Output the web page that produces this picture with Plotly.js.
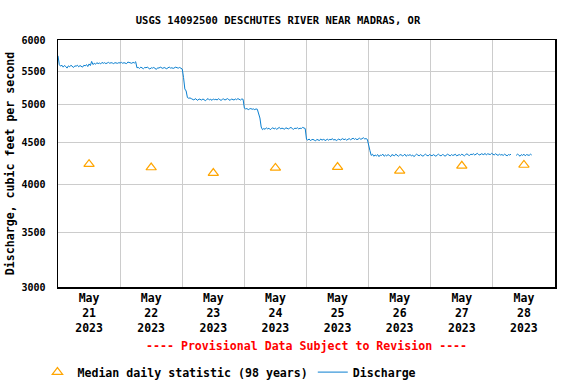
<!DOCTYPE html>
<html><head><meta charset="utf-8">
<script src="https://cdn.plot.ly/plotly-3.0.1.min.js"></script>
<style>html,body{margin:0;padding:0;background:#fff}#chart{width:576px;height:384px}</style>
</head><body><div id="chart"></div>
<script>
// Half-hourly discharge readings (cfs), one array per day, index = half-hour of day
const dayLabels = ['2023-05-21','2023-05-22','2023-05-23','2023-05-24','2023-05-25','2023-05-26','2023-05-27','2023-05-28'];
const may21 = [5740, 5600, 5575, 5590, 5560, 5585, 5570, 5545,
               5580, 5565, 5590, 5570, 5555, 5580, 5575, 5590,
               5565, 5585, 5575, 5560, 5590, 5580, 5600, 5570,
               5610, 5585, 5650, 5600, 5620, 5605, 5630, 5615,
               5625, 5610, 5635, 5620, 5630, 5615, 5625, 5635,
               5620, 5630, 5625, 5615, 5630, 5625, 5620, 5630];
const may22 = [5625, 5635, 5620, 5630, 5625, 5615, 5640, 5630,
               5625, 5620, 5635, 5625, 5645, 5550, 5555, 5540,
               5560, 5545, 5535, 5555, 5550, 5560, 5540, 5530,
               5550, 5545, 5555, 5540, 5525, 5550, 5545, 5560,
               5550, 5540, 5555, 5545, 5535, 5550, 5560, 5545,
               5550, 5540, 5555, 5560, 5550, 5545, 5555, 5545];
const may23 = [5530, 5400, 5230, 5200, 5105, 5095, 5100, 5090,
               5080, 5070, 5090, 5075, 5065, 5085, 5080, 5070,
               5085, 5075, 5060, 5080, 5090, 5070, 5080, 5065,
               5085, 5075, 5080, 5070, 5090, 5075, 5065, 5080,
               5085, 5070, 5080, 5090, 5075, 5065, 5085, 5080,
               5070, 5085, 5075, 5090, 5080, 5070, 5085, 5080];
const may24 = [4955, 4945, 4950, 4935, 4945, 4950, 4940, 4945,
               4935, 4945, 4940, 4870, 4820, 4700, 4665, 4680,
               4670, 4690, 4675, 4685, 4665, 4680, 4690, 4675,
               4685, 4670, 4680, 4695, 4675, 4685, 4680, 4670,
               4690, 4680, 4675, 4685, 4695, 4680, 4670, 4685,
               4680, 4690, 4675, 4685, 4680, 4695, 4685, 4680];
const may25 = [4540, 4530, 4545, 4525, 4535, 4540, 4530, 4520,
               4540, 4535, 4525, 4545, 4530, 4540, 4535, 4525,
               4545, 4530, 4540, 4535, 4550, 4530, 4540, 4525,
               4535, 4545, 4530, 4540, 4550, 4535, 4545, 4530,
               4540, 4550, 4535, 4545, 4555, 4540, 4550, 4535,
               4545, 4555, 4540, 4550, 4560, 4545, 4550, 4540];
const may26 = [4450, 4400, 4340, 4355, 4330, 4345, 4335, 4350,
               4325, 4345, 4340, 4355, 4330, 4345, 4335, 4350,
               4340, 4325, 4350, 4345, 4335, 4355, 4340, 4330,
               4345, 4350, 4335, 4340, 4355, 4330, 4345, 4340,
               4350, 4335, 4345, 4325, 4340, 4355, 4345, 4335,
               4350, 4340, 4330, 4345, 4355, 4340, 4335, 4350];
const may27 = [4345, 4335, 4350, 4340, 4330, 4345, 4355, 4340,
               4335, 4350, 4345, 4330, 4340, 4355, 4345, 4335,
               4350, 4340, 4345, 4355, 4335, 4345, 4350, 4340,
               4355, 4345, 4335, 4350, 4360, 4345, 4340, 4355,
               4350, 4360, 4345, 4355, 4365, 4350, 4345, 4360,
               4355, 4350, 4365, 4345, 4360, 4355, 4350, 4365];
const may28 = [4355, 4345, 4360, 4350, 4340, 4355, 4345, 4350,
               4340, 4355, 4345, 4335, 4350, 4345, 4355, null,
               null, null, 4340, 4355, 4345, 4330, 4350, 4340,
               4355, 4335, 4350, 4345, 4340, 4355, 4345];

// Median daily statistic (98 years)
const medianDates = ['2023-05-21 12:00','2023-05-22 12:00','2023-05-23 12:00','2023-05-24 12:00','2023-05-25 12:00','2023-05-26 12:00','2023-05-27 12:00','2023-05-28 12:00'];
const medianValues = [4235, 4195, 4130, 4190, 4200, 4155, 4215, 4225];

const yTicks = [3000, 3500, 4000, 4500, 5000, 5500, 6000];

const dayArrays = [may21, may22, may23, may24, may25, may26, may27, may28];
const qTimes = [], qValues = [];
dayArrays.forEach((arr, d) => {
  arr.forEach((v, i) => {
    const hh = String(Math.floor(i / 2)).padStart(2, '0');
    const mm = i % 2 ? '30' : '00';
    qTimes.push(dayLabels[d] + ' ' + hh + ':' + mm);
    qValues.push(v);
  });
});

const FONT = 'DejaVu Sans Mono';

const traces = [
  {
    x: medianDates, y: medianValues, type: 'scatter', mode: 'markers',
    name: 'Median daily statistic (98 years)',
    marker: {symbol: 'triangle-up-open', size: 9, color: '#FFA500', line: {width: 1.2, color: '#FFA500'}},
    hoverinfo: 'skip'
  },
  {
    x: qTimes, y: qValues, type: 'scatter', mode: 'lines',
    name: 'Discharge', connectgaps: false,
    line: {color: '#0a7fd0', width: 1, shape: 'linear'},
    hoverinfo: 'skip'
  }
];

const layout = {
  width: 576, height: 384,
  margin: {l: 58, r: 21, t: 40, b: 97, pad: 0},
  paper_bgcolor: '#ffffff', plot_bgcolor: '#ffffff',
  font: {family: FONT, size: 10, color: '#000', weight: 'bold'},
  title: {
    text: 'USGS 14092500 DESCHUTES RIVER NEAR MADRAS, OR',
    font: {family: FONT, size: 10.5, color: '#000', weight: 'bold'},
    xref: 'container', x: 0.4826, xanchor: 'center',
    yref: 'container', y: 0.948, yanchor: 'middle'
  },
  xaxis: {
    type: 'date',
    range: ['2023-05-21 00:00', '2023-05-29 00:00'],
    tick0: '2023-05-21', dtick: 86400000,
    ticklabelmode: 'period',
    tickformat: '%b<br>%d<br>%Y',
    tickfont: {family: FONT, size: 11.5, color: '#000', weight: 'bold'},
    showgrid: true, gridcolor: '#cccccc', gridwidth: 1,
    ticks: '', zeroline: false, automargin: false,
    showline: true, mirror: true, linecolor: '#000', linewidth: 1.5
  },
  yaxis: {
    type: 'log',
    range: [Math.log10(3000), Math.log10(6000)],
    tickmode: 'array', tickvals: yTicks, ticktext: yTicks.map(String),
    tickfont: {family: FONT, size: 10, color: '#000', weight: 'bold'},
    ticklabelstandoff: 9, automargin: false,
    showgrid: true, gridcolor: '#cccccc', gridwidth: 1,
    ticks: '', zeroline: false,
    showline: true, mirror: true, linecolor: '#000', linewidth: 1.5,
    title: {text: 'Discharge, cubic feet per second', font: {family: FONT, size: 11.6, color: '#000', weight: 'bold'}, standoff: 4}
  },
  showlegend: true,
  legend: {
    orientation: 'h', xref: 'container', yref: 'container',
    x: 0.065, xanchor: 'left', y: 0.031, yanchor: 'middle',
    font: {family: FONT, size: 11.6, color: '#000', weight: 'bold'},
    bgcolor: 'rgba(0,0,0,0)', itemwidth: 30, traceorder: 'normal'
  },
  annotations: [{
    text: '---- Provisional Data Subject to Revision ----',
    xref: 'paper', yref: 'paper', x: 0.5, y: -0.239, xanchor: 'center', yanchor: 'middle',
    showarrow: false,
    font: {family: FONT, size: 11.6, color: '#ff0000', weight: 'bold'}
  }]
};

Plotly.newPlot('chart', traces, layout, {displayModeBar: false, staticPlot: true});
</script>
</body></html>
